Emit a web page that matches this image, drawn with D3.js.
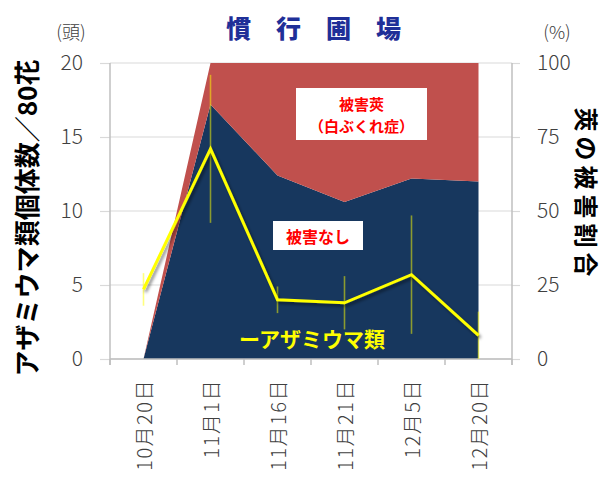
<!DOCTYPE html>
<html><head><meta charset="utf-8">
<script src="https://cdn.jsdelivr.net/npm/d3@7"></script>
<style>
html,body{margin:0;padding:0;background:#fff;}
svg{display:block;font-family:"Noto Sans CJK JP","Noto Sans",sans-serif;}
</style></head>
<body>
<svg id="chart" width="605" height="484"></svg>
<script>
const categories = ["10月20日","11月1日","11月16日","11月21日","12月5日","12月20日"];
const thripsCount = [4.7, 14.2, 4.0, 3.8, 5.7, 1.6];
const thripsError = [1.1, 5.0, 0.9, 1.8, 4.0, 1.6];
const healthyPct = [0, 86, 62, 53, 61, 60];
const damagedPct = [0, 14, 38, 47, 39, 40];
const leftTicks = [0, 5, 10, 15, 20];
const rightTicks = [0, 25, 50, 75, 100];

const svg = d3.select("#chart");
const L = 110, R = 512, T = 63, B = 359;
const x = d3.scaleBand().domain(categories).range([L, R]);
const cx = c => x(c) + x.bandwidth() / 2;
const yL = d3.scaleLinear().domain([0, 20]).range([B, T]);
const yR = d3.scaleLinear().domain([0, 100]).range([B, T]);

const defs = svg.append("defs");
const f = defs.append("filter").attr("id","sh").attr("x","-10%").attr("y","-10%").attr("width","130%").attr("height","130%");
f.append("feDropShadow").attr("dx",2).attr("dy",2.5).attr("stdDeviation",1.6).attr("flood-color","#000").attr("flood-opacity",0.45);

// gridlines
svg.append("g").selectAll("line").data(leftTicks).join("line")
  .attr("x1", L).attr("x2", R).attr("y1", d => yL(d)).attr("y2", d => yL(d))
  .attr("stroke", "#d9d9d9").attr("stroke-width", 1.2);

// stacked areas
const rows = categories.map((c, i) => ({cat: c, healthy: healthyPct[i], damaged: damagedPct[i]}));
const stack = d3.stack().keys(["healthy", "damaged"])(rows);
const colors = {healthy: "#17375e", damaged: "#c0504d"};
const area = d3.area().x(d => cx(d.data.cat)).y0(d => yR(d[0])).y1(d => yR(d[1]));
svg.append("g").selectAll("path").data(stack).join("path")
  .attr("d", area).attr("fill", d => colors[d.key]);

// axes
const leftAxis = d3.axisLeft(yL).tickValues(leftTicks).tickSize(10).tickPadding(17);
const gL = svg.append("g").attr("transform", `translate(${L},0)`).call(leftAxis);
const rightAxis = d3.axisRight(yR).tickValues(rightTicks).tickSize(8).tickPadding(17);
const gR = svg.append("g").attr("transform", `translate(${R},0)`).call(rightAxis);
[gL, gR].forEach(g => {
  g.select(".domain").remove();
  g.selectAll(".tick line").attr("stroke", "#d9d9d9").attr("stroke-width", 1.2);
  g.selectAll(".tick text").attr("font-size", 21).attr("fill", "#404040")
    .attr("font-family", "'Noto Sans CJK JP',sans-serif").attr("font-weight", 300);
});
// vertical axis lines
svg.append("line").attr("x1", L).attr("x2", L).attr("y1", T).attr("y2", B + 6).attr("stroke", "#bfbfbf").attr("stroke-width", 1.5);
svg.append("line").attr("x1", R).attr("x2", R).attr("y1", T).attr("y2", B + 6).attr("stroke", "#bfbfbf").attr("stroke-width", 1.5);
// bottom axis
svg.append("line").attr("x1", L).attr("x2", R).attr("y1", B).attr("y2", B).attr("stroke", "#bfbfbf").attr("stroke-width", 1.5);
const bounds = categories.map(c => x(c)).concat([x.range()[1]]);
svg.append("g").selectAll("line").data(bounds).join("line")
  .attr("x1", d => d).attr("x2", d => d).attr("y1", B).attr("y2", B + 6)
  .attr("stroke", "#bfbfbf").attr("stroke-width", 1.5);
svg.append("g").selectAll("text").data(categories).join("text")
  .attr("transform", d => `translate(${cx(d)},${B + 20}) rotate(-90)`)
  .attr("text-anchor", "end").attr("dominant-baseline", "central")
  .attr("font-size", 20).attr("letter-spacing", 1.5).attr("font-weight", 300).attr("fill", "#404040")
  .text(d => d);

// error bars
svg.append("g").selectAll("line").data(categories).join("line")
  .attr("x1", d => cx(d)).attr("x2", d => cx(d))
  .attr("y1", (d, i) => yL(thripsCount[i] + thripsError[i]))
  .attr("y2", (d, i) => yL(Math.max(0, thripsCount[i] - thripsError[i])))
  .attr("stroke", "#ffff00").attr("stroke-opacity", 0.5).attr("stroke-width", 1.6);

// line
const line = d3.line().x((d, i) => cx(categories[i])).y(d => yL(d));
svg.append("path").datum(thripsCount).attr("d", line)
  .attr("fill", "none").attr("stroke", "#ffff00").attr("stroke-width", 3)
  .attr("stroke-linejoin", "miter").attr("filter", "url(#sh)");

// labels in chart
svg.append("rect").attr("x", 296).attr("y", 88).attr("width", 131).attr("height", 52).attr("fill", "#fff");
svg.append("text").attr("x", 361.5).attr("y", 103).attr("text-anchor", "middle").attr("dominant-baseline", "central")
  .attr("font-size", 15).attr("font-weight", 700).attr("fill", "#ff0000").text("被害莢");
svg.append("text").attr("x", 361.5).attr("y", 125).attr("text-anchor", "middle").attr("dominant-baseline", "central")
  .attr("font-size", 15).attr("font-weight", 700).attr("fill", "#ff0000").text("（白ぶくれ症）");
svg.append("rect").attr("x", 273).attr("y", 221).attr("width", 90).attr("height", 29).attr("fill", "#fff");
svg.append("text").attr("x", 318).attr("y", 236).attr("text-anchor", "middle").attr("dominant-baseline", "central")
  .attr("font-size", 16).attr("font-weight", 700).attr("fill", "#ff0000").text("被害なし");
svg.append("text").attr("x", 312).attr("y", 338).attr("text-anchor", "middle").attr("dominant-baseline", "central")
  .attr("font-size", 21).attr("font-weight", 700).attr("fill", "#ffff00").text("ーアザミウマ類");

// titles
svg.append("text").attr("x", 313.5).attr("y", 27).attr("text-anchor", "middle").attr("dominant-baseline", "central")
  .attr("font-size", 25).attr("font-weight", 900).attr("fill", "#1f2f98").text("慣　行　圃　場");
svg.append("text").attr("x", 71).attr("y", 31).attr("text-anchor", "middle").attr("dominant-baseline", "central")
  .attr("font-size", 18).attr("font-weight", 300).attr("fill", "#404040").text("(頭)");
svg.append("text").attr("x", 557).attr("y", 31).attr("text-anchor", "middle").attr("dominant-baseline", "central")
  .attr("font-size", 18).attr("font-weight", 300).attr("fill", "#404040").text("(%)");
svg.append("text").attr("transform", "translate(25,218) rotate(-90)")
  .attr("text-anchor", "middle").attr("dominant-baseline", "central")
  .attr("font-size", 26).attr("font-weight", 700).attr("fill", "#000")
  .attr("textLength", 317).attr("lengthAdjust", "spacingAndGlyphs").text("アザミウマ類個体数／80花");
svg.append("text").attr("transform", "translate(587,192) rotate(90)")
  .attr("text-anchor", "middle").attr("dominant-baseline", "central")
  .attr("font-size", 24).attr("font-weight", 700).attr("fill", "#000")
  .attr("textLength", 169).attr("lengthAdjust", "spacing").text("莢の被害割合");
</script>
</body></html>
